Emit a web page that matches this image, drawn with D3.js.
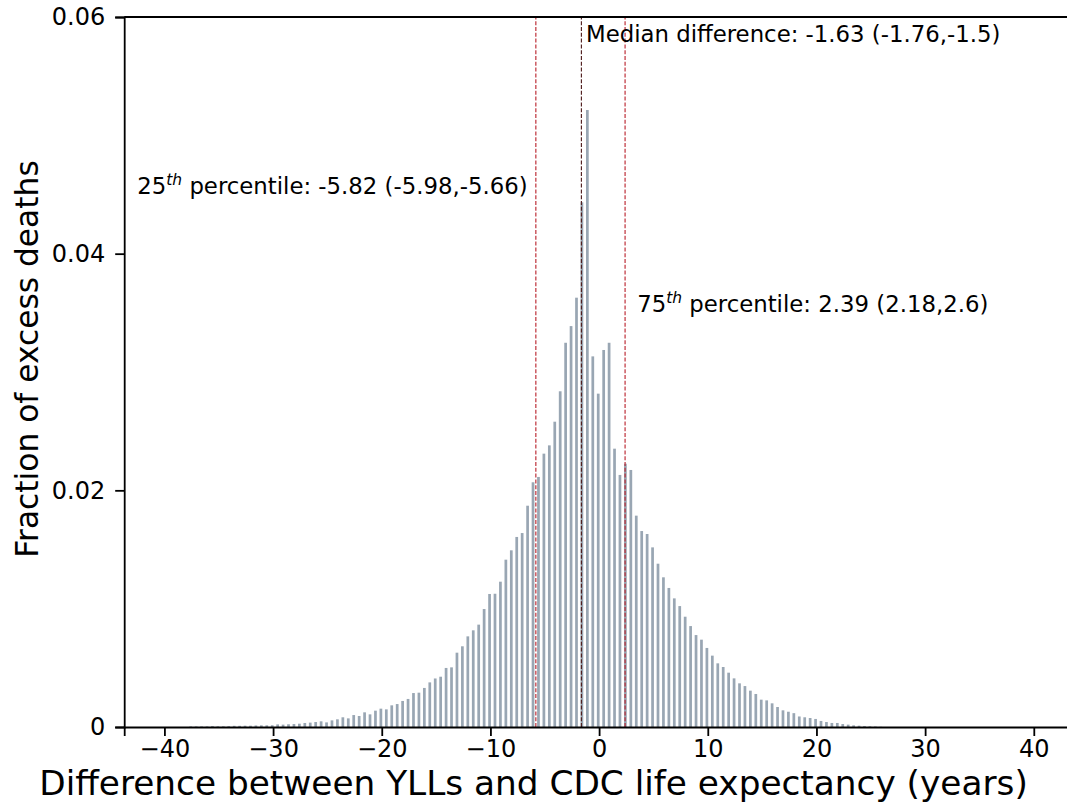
<!DOCTYPE html>
<html><head><meta charset="utf-8">
<script src="https://cdn.jsdelivr.net/npm/d3@7"></script>
<style>
body{margin:0;background:#fff;}
svg{display:block;font-family:"DejaVu Sans",sans-serif;}
</style></head>
<body><svg id="chart" width="1067" height="811"></svg>
<script>
// ---- data ----
const binStart = -37.5;   // first bin centre (years)
const binWidth = 0.5;     // bin width (years)
const fractions = [
  0.00005,0.00005,0.00005,0.00005,0.00008,0.00006,0.00006,0.00007,0.00010,0.00010,
  0.00011,0.00011,0.00013,0.00014,0.00014,0.00015,0.00022,0.00020,0.00023,0.00025,
  0.00028,0.00034,0.00037,0.00042,0.00048,0.00039,0.00056,0.00065,0.00082,0.00073,
  0.00101,0.00093,0.00124,0.00107,0.00138,0.00155,0.00149,0.00183,0.00194,0.00220,
  0.00237,0.00287,0.00290,0.00330,0.00377,0.00410,0.00425,0.00499,0.00504,0.00628,
  0.00682,0.00766,0.00817,0.00865,0.00997,0.01124,0.01126,0.01228,0.01414,0.01493,
  0.01606,0.01639,0.01870,0.02068,0.02113,0.02310,0.02380,0.02580,0.02837,0.03247,
  0.03388,0.03628,0.04434,0.05214,0.03132,0.02817,0.03186,0.03247,0.02352,0.02130,
  0.02225,0.02172,0.01786,0.01656,0.01631,0.01518,0.01380,0.01265,0.01175,0.01087,
  0.01022,0.00932,0.00853,0.00777,0.00738,0.00668,0.00603,0.00538,0.00507,0.00459,
  0.00411,0.00369,0.00346,0.00307,0.00279,0.00231,0.00225,0.00200,0.00169,0.00141,
  0.00129,0.00117,0.00089,0.00082,0.00076,0.00068,0.00051,0.00042,0.00034,0.00034,
  0.00025,0.00020,0.00014,0.00011,0.00008,0.00006,0.00004,0.00002
];
const xTicks = [-40,-30,-20,-10,0,10,20,30,40];
const yTicks = [0,0.02,0.04,0.06];
const yTickLabels = ["0","0.02","0.04","0.06"];
const refLines = [
  {value:-5.82, kind:"q"},
  {value:-1.63, kind:"median"},
  {value:2.39, kind:"q"}
];
const annotations = [
  {pre:"Median difference: -1.63 (-1.76,-1.5)", sup:"", post:"", ax:-1.2, ay:0.05789},
  {pre:"25", sup:"th", post:" percentile: -5.82 (-5.98,-5.66)", ax:-42.5, ay:0.04504},
  {pre:"75", sup:"th", post:" percentile: 2.39 (2.18,2.6)", ax:3.5, ay:0.03507}
];
const xLabel = "Difference between YLLs and CDC life expectancy (years)";
const yLabel = "Fraction of excess deaths";

// ---- layout ----
const svg = d3.select("#chart");
const x = d3.scaleLinear().domain([-43.7, 43.7]).range([124.2, 1074]);
const y = d3.scaleLinear().domain([0, 0.06]).range([727, 17]);
const barW = 0.25, barOffset = -0.08;
const bins = fractions.map((f,i)=>({c: binStart + i*binWidth, f}));

svg.append("g").selectAll("rect").data(bins).join("rect")
  .attr("x", d => x(d.c + barOffset - barW/2))
  .attr("width", d => x(d.c + barOffset + barW/2) - x(d.c + barOffset - barW/2))
  .attr("y", d => y(d.f))
  .attr("height", d => y(0) - y(d.f))
  .attr("fill", "#778899").attr("fill-opacity", 0.75);

svg.append("g").selectAll("line").data(refLines).join("line")
  .attr("x1", d => x(d.value)).attr("x2", d => x(d.value))
  .attr("y1", y(0)).attr("y2", y(0.06))
  .attr("stroke", d => d.kind === "median" ? "#4a1616" : "#b81e28")
  .attr("stroke-width", 1.1)
  .attr("stroke-dasharray", "4,1.8");

// axes
const xAxis = svg.append("g").attr("transform", `translate(0,${y(0)})`)
  .call(d3.axisBottom(x).tickValues(xTicks).tickSize(9).tickPadding(4));
const yAxis = svg.append("g").attr("transform", `translate(${x(-43.7)},0)`)
  .call(d3.axisLeft(y).tickValues(yTicks).tickSize(9).tickPadding(10)
    .tickFormat((d,i)=>yTickLabels[i]));
[xAxis,yAxis].forEach(g=>{
  g.select(".domain").attr("stroke","#000").attr("stroke-width",1.8);
  g.selectAll(".tick line").attr("stroke","#000").attr("stroke-width",1.8);
  g.selectAll(".tick text").attr("fill","#000").attr("font-size",24)
    .attr("font-family","DejaVu Sans");
});
// top spine
svg.append("line").attr("x1", x(-43.7)).attr("x2", x(43.7))
  .attr("y1", y(0.06)).attr("y2", y(0.06))
  .attr("stroke","#000").attr("stroke-width",1.8);

// annotations
annotations.forEach(a=>{
  const t = svg.append("text").attr("x", x(a.ax)).attr("y", y(a.ay))
    .attr("font-size", 22.8).attr("fill","#000");
  t.append("tspan").text(a.pre);
  if (a.sup) {
    t.append("tspan").attr("font-size",15.5).attr("font-style","italic")
      .attr("dy",-9).text(a.sup);
    t.append("tspan").attr("dy",9).text(a.post);
  }
});

// axis labels
svg.append("text").attr("x", 533.5).attr("y", 795)
  .attr("text-anchor","middle").attr("font-size",34.3).attr("fill","#000")
  .text(xLabel);
svg.append("text").attr("transform","translate(38,359) rotate(-90)")
  .attr("text-anchor","middle").attr("font-size",31.3).attr("fill","#000")
  .text(yLabel);
</script></body></html>
